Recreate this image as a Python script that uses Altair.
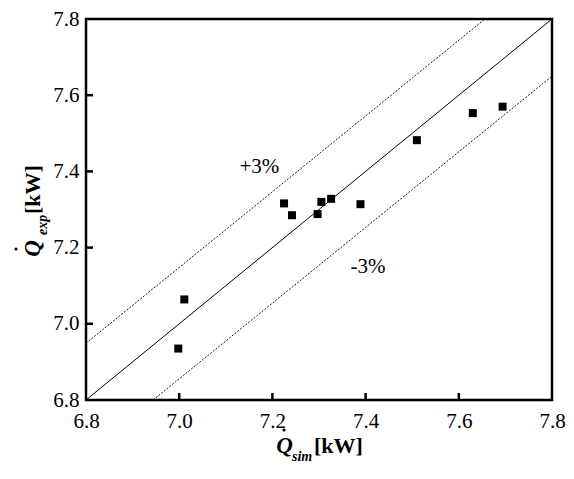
import altair as alt
import pandas as pd

# measured points
q_sim = [6.998, 7.011, 7.225, 7.242, 7.297, 7.305, 7.326, 7.389, 7.510, 7.630, 7.694]
q_exp = [6.935, 7.064, 7.316, 7.285, 7.288, 7.320, 7.328, 7.314, 7.482, 7.553, 7.570]

# reference lines (endpoints in data units)
diag_x = [6.8, 7.8]
diag_y = [6.8, 7.8]
upper_x = [6.8, 7.656]
upper_y = [6.949, 7.8]
lower_x = [6.944, 7.8]
lower_y = [6.8, 7.650]

band_labels = ["+3%", "-3%"]
band_label_x = [7.172, 7.405]
band_label_y = [7.412, 7.149]

tick_values = [6.8, 7.0, 7.2, 7.4, 7.6, 7.8]
inner_ticks = [7.0, 7.2, 7.4, 7.6]

FONT = "Liberation Serif"
W, H = 466, 381

xs = alt.Scale(domain=[6.8, 7.8], nice=False, zero=False)
ys = alt.Scale(domain=[6.8, 7.8], nice=False, zero=False)

pts = pd.DataFrame({"sim": q_sim, "exp": q_exp})

xaxis = alt.Axis(values=tick_values, format=".1f", title=None, domain=False, ticks=False,
                 grid=False, labelFont=FONT, labelFontSize=21, labelFontWeight="normal",
                 labelColor="black", labelPadding=10, labelOverlap=False, labelFlush=False)
yaxis = alt.Axis(values=tick_values, format=".1f", title=None, domain=False, ticks=False,
                 grid=False, labelFont=FONT, labelFontSize=21, labelFontWeight="normal",
                 labelColor="black", labelPadding=7, labelOverlap=False, labelFlush=False)

points = alt.Chart(pts).mark_point(shape="square", filled=True, size=64, color="black", opacity=1).encode(
    x=alt.X("sim:Q", scale=xs, axis=xaxis),
    y=alt.Y("exp:Q", scale=ys, axis=yaxis),
)

def line_layer(xv, yv, dash=None):
    df = pd.DataFrame({"x": xv, "y": yv})
    kw = dict(color="black", strokeWidth=1)
    if dash:
        kw["strokeDash"] = dash
        kw["strokeWidth"] = 0.9
    return alt.Chart(df).mark_line(**kw).encode(
        x=alt.X("x:Q", scale=xs), y=alt.Y("y:Q", scale=ys)
    )

diag = line_layer(diag_x, diag_y)
upper = line_layer(upper_x, upper_y, [2, 1.5])
lower = line_layer(lower_x, lower_y, [2, 1.5])

band_df = pd.DataFrame({"t": band_labels, "x": band_label_x, "y": band_label_y})
band_text = alt.Chart(band_df).mark_text(font=FONT, fontSize=21, fontWeight="normal", color="black",
                                        align="center", baseline="middle").encode(
    x=alt.X("x:Q", scale=xs), y=alt.Y("y:Q", scale=ys), text="t:N"
)

tick_df = pd.DataFrame({"v": inner_ticks})
xticks = alt.Chart(tick_df).mark_rule(color="black", strokeWidth=2.5).encode(
    x=alt.X("v:Q", scale=xs), y=alt.value(H), y2=alt.value(H - 7)
)
yticks = alt.Chart(tick_df).mark_rule(color="black", strokeWidth=2.5).encode(
    y=alt.Y("v:Q", scale=ys), x=alt.value(0), x2=alt.value(7)
)

one = pd.DataFrame({"k": [0]})

def txt(s, x, y, size, italic=False, angle=0, align="center"):
    kw = dict(font=FONT, fontSize=size, fontWeight="bold", color="black", align=align,
              baseline="alphabetic", text=s)
    if italic:
        kw["fontStyle"] = "italic"
    if angle:
        kw["angle"] = angle
    return alt.Chart(one).mark_text(**kw).encode(x=alt.value(x), y=alt.value(y))

def dot(x, y):
    return alt.Chart(one).mark_circle(size=10, color="black", opacity=1).encode(
        x=alt.value(x), y=alt.value(y))

# x-axis title: Q-dot sim [kW]
xt = [
    txt("Q", 198.5, 434, 23, italic=True),
    dot(198, 411),
    txt("sim", 206, 442, 14, italic=True, align="left"),
    txt("[kW]", 228, 434, 22, align="left"),
]
# y-axis title (rotated)
yt = [
    txt("Q", -46, 229.5, 23, italic=True, angle=270),
    dot(-70, 230),
    txt("exp", -39, 216, 14, italic=True, angle=270, align="left"),
    txt("[kW]", -46, 195, 22, angle=270, align="left"),
]

chart = alt.layer(diag, upper, lower, points, band_text, xticks, yticks, *xt, *yt).properties(
    width=W, height=H,
    autosize=alt.AutoSizeParams(type="none"),
    padding={"left": 86, "top": 19, "right": 22, "bottom": 79},
    background="white",
).configure_view(stroke="black", strokeWidth=2.5)

chart.save("out.html", embed_options={"renderer": "svg", "actions": False})
